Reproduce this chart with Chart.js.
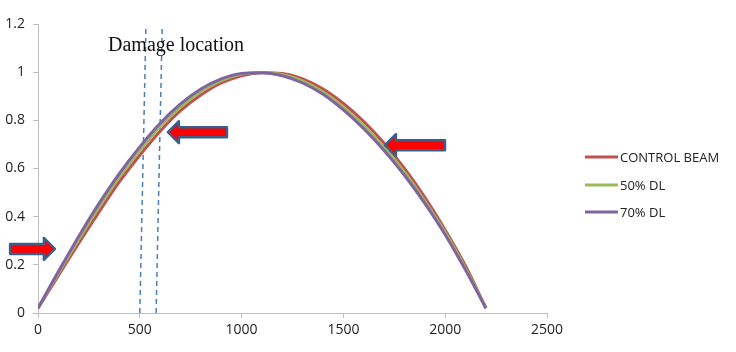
<!DOCTYPE html>
<html>
<head>
<meta charset="utf-8">
<script src="https://cdn.jsdelivr.net/npm/chart.js@4.4.1/dist/chart.umd.min.js"></script>
<style>
  html, body { margin: 0; padding: 0; background: #ffffff; }
  #wrap { width: 736px; height: 352px; position: relative; }
</style>
</head>
<body>
<div id="wrap"><canvas id="c" width="736" height="352"></canvas></div>
<script>
// ---- data ----
const positions = [0,100,200,300,400,500,600,700,800,900,1000,1100,1200,1300,1400,1500,1600,1700,1800,1900,2000,2100,2200];
const seriesNames = ['CONTROL BEAM', '50% DL', '70% DL'];
const controlBeam = [0.02,0.155,0.29,0.42,0.545,0.655,0.755,0.84,0.905,0.955,0.985,0.998,0.995,0.972,0.93,0.87,0.795,0.705,0.6,0.48,0.345,0.195,0.02];
const dl50 = [0.02,0.165,0.305,0.44,0.565,0.675,0.775,0.855,0.92,0.965,0.992,0.999,0.99,0.963,0.918,0.855,0.778,0.688,0.585,0.465,0.335,0.185,0.02];
const dl70 = [0.02,0.172,0.318,0.455,0.58,0.69,0.788,0.868,0.93,0.972,0.995,0.998,0.985,0.955,0.908,0.843,0.765,0.675,0.572,0.455,0.325,0.178,0.02];
// damage-location marker lines (bottom x, top x, top y)
const damageLineBottomX = [500, 580];
const damageLineTopX = [530, 610];
const damageLineTopY = 1.183;
const damageLabel = 'Damage location';
// arrow annotations (tail x, tip x, y)
const arrowTailX = [-137, 928, 1999];
const arrowTipX = [83, 638, 1704];
const arrowY = [0.266, 0.751, 0.697];
const xTicks = [0, 500, 1000, 1500, 2000, 2500];
const yTicks = [0, 0.2, 0.4, 0.6, 0.8, 1, 1.2];
const xTickLabels = ['0', '500', '1000', '1500', '2000', '2500'];
const yTickLabels = ['0', '0.2', '0.4', '0.6', '0.8', '1', '1.2'];

const colors = ['#C0504D', '#9BBB59', '#8064A2'];
const seriesValues = [controlBeam, dl50, dl70];

const datasets = seriesValues.map((vals, i) => ({
  label: seriesNames[i],
  data: positions.map((x, k) => ({x: x, y: vals[k]})),
  borderColor: colors[i],
  backgroundColor: colors[i],
  borderWidth: 3,
  pointRadius: 0,
  cubicInterpolationMode: 'monotone',
  fill: false,
  order: 2 - i
}));
damageLineBottomX.forEach((bx, i) => {
  datasets.push({
    label: 'damage' + i,
    data: [{x: bx, y: 0}, {x: damageLineTopX[i], y: damageLineTopY}],
    borderColor: '#4A7EBB',
    borderWidth: 1.5,
    borderDash: [5, 4],
    pointRadius: 0,
    fill: false,
    order: 5
  });
});

const FONT = '"Open Sans", "Liberation Sans", sans-serif';

const decor = {
  id: 'decor',
  afterDatasetsDraw(chart) {
    const ctx = chart.ctx, xs = chart.scales.x, ys = chart.scales.y;
    ctx.save();
    ctx.font = '20px "Liberation Serif", "Times New Roman", serif';
    ctx.fillStyle = '#111';
    ctx.textAlign = 'left';
    ctx.textBaseline = 'alphabetic';
    ctx.fillText(damageLabel, xs.getPixelForValue(344), ys.getPixelForValue(1.087));
    for (let i = 0; i < arrowTipX.length; i++) {
      const x0 = xs.getPixelForValue(arrowTailX[i]);
      const x1 = xs.getPixelForValue(arrowTipX[i]);
      const y = ys.getPixelForValue(arrowY[i]);
      const dir = x1 > x0 ? 1 : -1;
      const hl = 11, hh = 11, sh = 5;
      const xb = x1 - dir * hl;
      ctx.beginPath();
      ctx.moveTo(x0, y - sh);
      ctx.lineTo(xb, y - sh);
      ctx.lineTo(xb, y - hh);
      ctx.lineTo(x1, y);
      ctx.lineTo(xb, y + hh);
      ctx.lineTo(xb, y + sh);
      ctx.lineTo(x0, y + sh);
      ctx.closePath();
      ctx.fillStyle = '#FF0000';
      ctx.fill();
      ctx.lineJoin = 'round';
      ctx.lineWidth = 2.5;
      ctx.strokeStyle = '#3B5E8C';
      ctx.stroke();
    }
    ctx.font = '13px ' + FONT;
    ctx.textBaseline = 'middle';
    const rows = [157, 185, 212];
    for (let i = 0; i < 3; i++) {
      ctx.beginPath();
      ctx.moveTo(585, rows[i]);
      ctx.lineTo(618, rows[i]);
      ctx.strokeStyle = colors[i];
      ctx.lineWidth = 3;
      ctx.stroke();
      ctx.fillStyle = '#222';
      ctx.fillText(seriesNames[i], 620, rows[i] + 1);
    }
    ctx.restore();
  }
};

new Chart(document.getElementById('c'), {
  type: 'line',
  data: { datasets: datasets },
  plugins: [decor],
  options: {
    responsive: false,
    animation: false,
    layout: { padding: { top: 24, right: 189, left: 0, bottom: 0 } },
    plugins: { legend: { display: false }, tooltip: { enabled: false } },
    scales: {
      x: {
        type: 'linear',
        min: 0, max: 2500,
        afterBuildTicks: s => { s.ticks = xTicks.map(v => ({value: v})); },
        afterFit: s => { s.height = 39; },
        grid: { display: true, drawOnChartArea: false, drawTicks: true, tickLength: 5, color: '#BFBFBF' },
        border: { display: true, color: '#BFBFBF' },
        ticks: { font: { family: FONT, size: 14 }, color: '#222', padding: 4, maxRotation: 0,
                 callback: (v, i) => xTickLabels[i] }
      },
      y: {
        type: 'linear',
        min: 0, max: 1.2,
        afterBuildTicks: s => { s.ticks = yTicks.map(v => ({value: v})); },
        afterFit: s => { s.width = 38; },
        grid: { display: true, drawOnChartArea: false, drawTicks: true, tickLength: 5, color: '#BFBFBF' },
        border: { display: true, color: '#BFBFBF' },
        ticks: { font: { family: FONT, size: 14 }, color: '#222', padding: 8,
                 callback: (v, i) => yTickLabels[i] }
      }
    }
  }
});
</script>
</body>
</html>
